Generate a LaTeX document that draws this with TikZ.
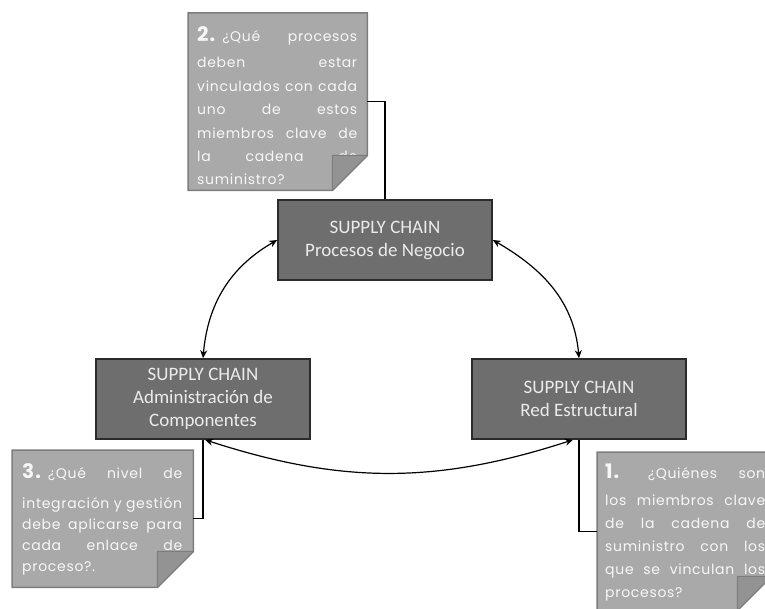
\documentclass[tikz,border=0pt]{standalone}
\usepackage{fontspec}
\setmainfont{Carlito}
\newfontfamily\notefont{Poppins}[LetterSpace=5]
\usetikzlibrary{arrows.meta}

\definecolor{boxgray}{HTML}{6E6E6E}
\definecolor{boxline}{HTML}{2B2B2B}
\definecolor{notegray}{HTML}{A9A9A9}
\definecolor{noteline}{HTML}{7D7D7D}
\definecolor{flapgray}{HTML}{939393}
\definecolor{boxtext}{HTML}{EBEBEB}
\definecolor{notetext}{HTML}{F7F7F7}

% one justified line of a note: the words are set apart by \hfill
\newcommand{\jline}[1]{\leavevmode\hbox to 160pt{#1}}
% the large bold number that opens each question
\newcommand{\qnum}[1]{{\fontsize{20}{22}\selectfont\bfseries #1}\kern7pt}

% note body with its lower right corner cut off
\newcommand{\notebody}[2]{%
  \filldraw[fill=notegray, draw=noteline, line width=1.5pt, line join=miter]
    (#1.north west) -- (#1.north east) -- ([yshift=#2]#1.south east)
    -- ([xshift=-#2]#1.south east) -- (#1.south west) -- cycle;
}
% the folded corner, laid over the text
\newcommand{\noteflap}[2]{%
  \filldraw[fill=flapgray, draw=noteline, line width=1pt, line join=round]
    ([yshift=#2]#1.south east) -- ([shift={(-#2,#2)}]#1.south east)
    -- ([xshift=-#2]#1.south east) -- cycle;
}

\tikzset{
  chainbox/.style={draw=boxline, line width=1.6pt, fill=boxgray,
    minimum width=214pt, minimum height=80pt, inner sep=0pt,
    text=boxtext, align=center, font=\fontsize{19}{23}\selectfont},
  noteshape/.style={anchor=north west, inner sep=0pt},
  notetext/.style={anchor=base west, inner sep=0pt, text width=160pt,
    align=left, text=notetext, font=\notefont\fontsize{14}{#1}\selectfont},
  conn/.style={line width=1.4pt, black},
  cyc/.style={line width=1.2pt, black,
    {Stealth[length=8pt,width=7pt]}-{Stealth[length=8pt,width=7pt]}}
}

\begin{document}
\begin{tikzpicture}[x=1pt,y=1pt]
  \useasboundingbox (0,0) rectangle (765,608);
  \clip (0,0) rectangle (765,608);

  % the three views of the supply chain
  \node[chainbox] (proc)  at (385,368) {SUPPLY CHAIN\\Procesos de Negocio};
  \node[chainbox] (admin) at (203,209) {SUPPLY CHAIN\\Administración de\\Componentes};
  \node[chainbox] (red)   at (579,209) {SUPPLY CHAIN\\Red Estructural};

  % question notes
  \node[noteshape, minimum width=179pt, minimum height=177pt] (q2) at (188,595) {};
  \notebody{q2}{35pt}
  \node[notetext=23.4pt] (q2t) at ([shift={(9pt,-29pt)}]q2.north west) {%
    \jline{\qnum{2.}¿Qué\hfill procesos}\\[2.6pt]
    \jline{deben\hfill estar}\\
    \jline{vinculados\hfill con\hfill cada}\\
    \jline{uno\hfill de\hfill estos}\\
    \jline{miembros\hfill clave\hfill de}\\
    \jline{la\hfill cadena\hfill de}\\
    suministro?};
  \noteflap{q2}{35pt}

  \node[noteshape, minimum width=181pt, minimum height=137pt] (q3) at (12,158) {};
  \notebody{q3}{36pt}
  \node[notetext=21.3pt] (q3t) at ([shift={(10pt,-28pt)}]q3.north west) {%
    \jline{\qnum{3.}¿Qué\hfill nivel\hfill de}\\[8.7pt]
    \jline{integración\hfill y\hfill gestión}\\
    \jline{debe\hfill aplicarse\hfill para}\\
    \jline{cada\hfill enlace\hfill de}\\
    proceso?.};
  \noteflap{q3}{36pt}

  \node[noteshape, minimum width=174pt, minimum height=158pt] (q1) at (597,156) {};
  \notebody{q1}{34pt}
  \node[notetext=23pt] (q1t) at ([shift={(8pt,-26pt)}]q1.north west) {%
    \jline{\qnum{1.}\hfill¿Quiénes\hfill son}\\[4pt]
    \jline{los\hfill miembros\hfill clave}\\
    \jline{de\hfill la\hfill cadena\hfill de}\\
    \jline{suministro\hfill con\hfill los}\\
    \jline{que\hfill se\hfill vinculan\hfill los}\\
    procesos?};
  \noteflap{q1}{34pt}

  % notes tied to their boxes
  \draw[conn] (q2.east) -| (proc.north);
  \draw[conn] (admin.south) |- (q3.east);
  \draw[conn] (red.south) |- (q1.west);

  % links between the three views
  \draw[cyc] (admin.north) to[out=85,in=210] (proc.west);
  \draw[cyc] (proc.east) to[out=-30,in=95] (red.north);
  \draw[cyc] ([xshift=2pt]admin.south) to[out=-18,in=198] ([xshift=-6pt]red.south);
\end{tikzpicture}
\end{document}
